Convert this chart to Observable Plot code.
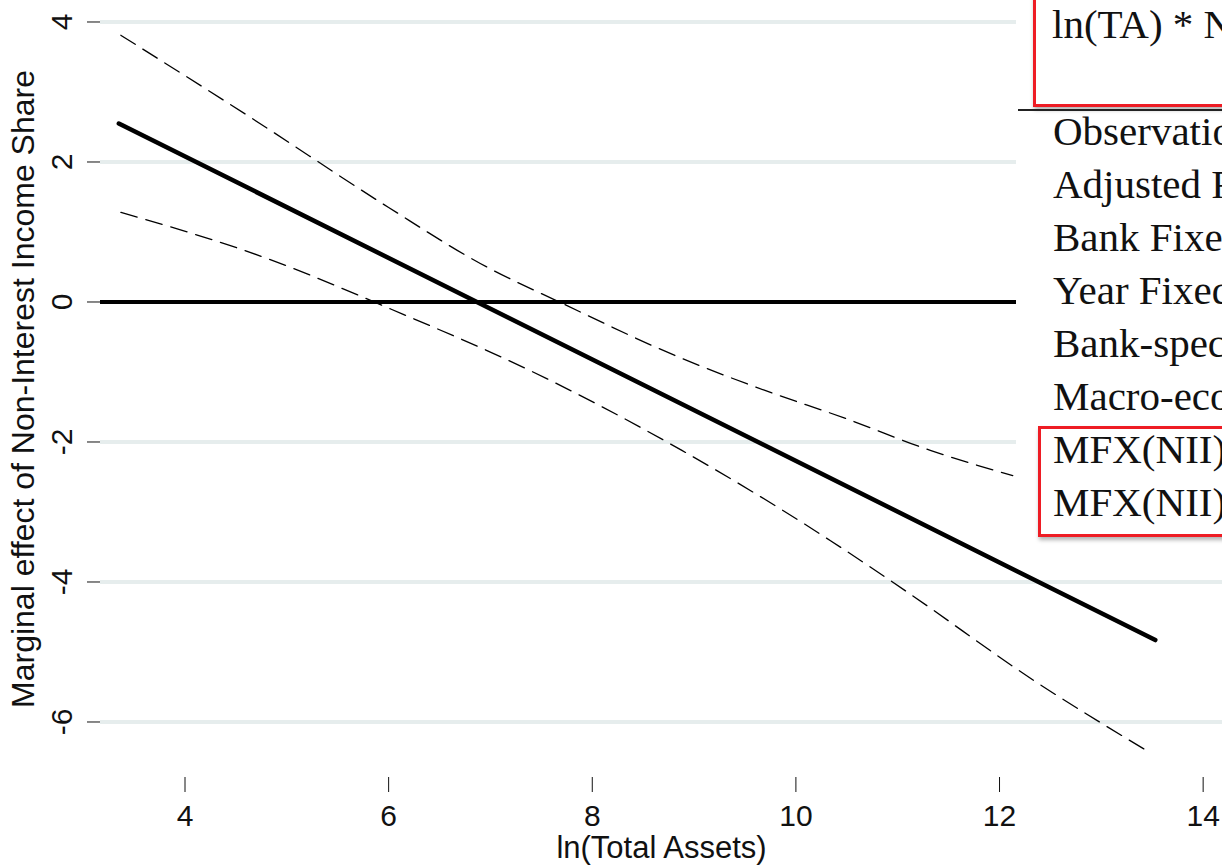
<!DOCTYPE html>
<html><head><meta charset="utf-8">
<script src="https://cdn.jsdelivr.net/npm/d3@7"></script>
<script src="https://cdn.jsdelivr.net/npm/@observablehq/plot@0.6"></script>
<style>
body{margin:0;background:#fff;}
#wrap{position:relative;width:1222px;height:865px;overflow:hidden;background:#fff;}
#wrap svg{position:absolute;left:0;top:0;}
#table{position:absolute;left:1016px;top:0;width:206px;height:548px;background:#fff;overflow:hidden;font-family:"Liberation Serif","Times New Roman",serif;color:#111;z-index:2;}
.row{position:absolute;left:37px;font-size:41px;line-height:41px;white-space:nowrap;}
.box{position:absolute;border:3px solid #ee1c24;box-shadow:1px 3px 4px rgba(0,0,0,0.3);}
.rule{position:absolute;left:2px;top:109px;width:260px;height:2px;background:#222;}
</style></head><body><div id="wrap"></div>
<script>
// ---- data ----
const xTicks = [4, 6, 8, 10, 12, 14];
const yTicks = [-6, -4, -2, 0, 2, 4];
const gridY = [-6, -4, -2, 2, 4];

const fitX = [3.35, 13.53];
const fitY = [2.55, -4.83];

const upperX = [3.37, 4.64, 6.0, 6.9, 7.72, 8.87, 9.69, 10.5, 11.32, 12.13];
const upperY = [3.81, 2.64, 1.35, 0.55, -0.03, -0.80, -1.26, -1.67, -2.12, -2.48];

const lowerX = [3.37, 4.81, 6.02, 7.39, 8.88, 10.34, 11.1, 12.34, 13.47];
const lowerY = [1.28, 0.62, -0.10, -0.98, -2.12, -3.41, -4.15, -5.41, -6.43];

const yTitle = "Marginal effect of Non-Interest Income Share";
const xTitle = "ln(Total Assets)";

const tableHeader = "ln(TA) * N";
const tableRows = ["Observatio", "Adjusted R", "Bank Fixe", "Year Fixed", "Bank-spec", "Macro-eco", "MFX(NII)", "MFX(NII)"];

// ---- build ----
const toPts = (xs, ys) => xs.map((x, i) => ({x, y: ys[i]}));
const fit = toPts(fitX, fitY);
const upper = toPts(upperX, upperY);
const lower = toPts(lowerX, lowerY);

const chart = Plot.plot({
  width: 1222, height: 865,
  marginLeft: 100, marginRight: 0, marginTop: 0, marginBottom: 88,
  x: {domain: [3.17, 14.19]},
  y: {domain: [-6.793, 4.307]},
  style: {fontFamily: '"Liberation Sans", Arial, sans-serif', background: "#fff", color: "#111", overflow: "visible"},
  marks: [
    Plot.ruleY(gridY, {stroke: "#e6eded", strokeWidth: 4}),
    Plot.ruleY([0], {stroke: "#000", strokeWidth: 4}),
    Plot.line(upper, {x: "x", y: "y", stroke: "#000", strokeWidth: 1.3, strokeDasharray: "17,9", curve: "monotone-x"}),
    Plot.line(lower, {x: "x", y: "y", stroke: "#000", strokeWidth: 1.3, strokeDasharray: "17,9", curve: "monotone-x"}),
    Plot.line(fit, {x: "x", y: "y", stroke: "#000", strokeWidth: 4.5, strokeLinecap: "round"}),
    Plot.axisX({ticks: xTicks, tickSize: 15, tickPadding: 12, fontSize: 30, label: null, tickFormat: d => String(d)}),
    Plot.axisY({ticks: yTicks, tickSize: 13, tickFormat: () => "", label: null}),
    Plot.text(yTicks, {y: d => d, text: d => String(d), frameAnchor: "left", dx: -38, rotate: -90, fontSize: 30, textAnchor: "middle", lineAnchor: "middle"}),
    Plot.text([yTitle], {text: d => d, frameAnchor: "left", dx: -77, rotate: -90, fontSize: 32, textAnchor: "middle", lineAnchor: "middle"}),
    Plot.text([xTitle], {text: d => d, frameAnchor: "bottom", dy: 71, fontSize: 31, textAnchor: "middle", lineAnchor: "middle"})
  ]
});

const wrap = document.getElementById("wrap");
wrap.appendChild(chart);

// ---- regression table overlay ----
const table = document.createElement("div");
table.id = "table";
const box1 = document.createElement("div");
box1.className = "box";
Object.assign(box1.style, {left: "17px", top: "-6px", width: "260px", height: "107px"});
table.appendChild(box1);
const head = document.createElement("div");
head.className = "row";
head.style.left = "36px";
head.style.top = (38 - 34.3) + "px";
head.textContent = tableHeader;
table.appendChild(head);
const rule = document.createElement("div");
rule.className = "rule";
table.appendChild(rule);
const box2 = document.createElement("div");
box2.className = "box";
Object.assign(box2.style, {left: "22px", top: "426px", width: "260px", height: "105px"});
table.appendChild(box2);
tableRows.forEach((t, i) => {
  const r = document.createElement("div");
  r.className = "row";
  r.style.top = (145 + 53.1 * i - 34.3) + "px";
  r.textContent = t;
  table.appendChild(r);
});
wrap.appendChild(table);
</script>
</body></html>
